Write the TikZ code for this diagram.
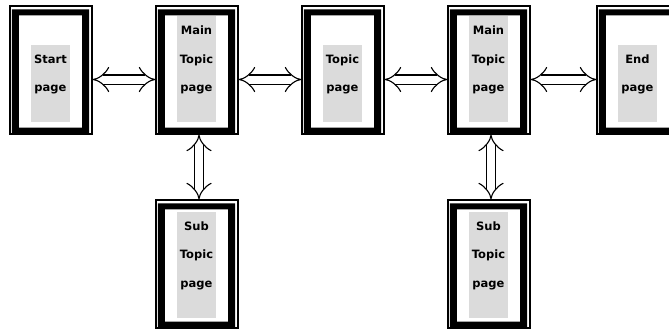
\documentclass[tikz,border=0pt]{standalone}
\usepackage{fontspec}
\setmainfont{DejaVu Sans}
\usetikzlibrary{arrows.meta}

\tikzset{
  page/.style={draw, line width=1.2pt, minimum width=82pt, minimum height=128pt, inner sep=0pt},
  sheet/.style={fill=black!14, minimum width=39pt, inner sep=0pt},
  pagetext/.style={font=\fontsize{11.5}{28.5}\selectfont\bfseries, align=center, inner sep=0pt},
  link/.style={double, double distance=8pt, line width=1.1pt, {Implies[length=9pt, width=17pt]}-{Implies[length=9pt, width=17pt]}}
}

\begin{document}
\begin{tikzpicture}[x=1pt,y=-1pt]
  \useasboundingbox (0,0) rectangle (669,330);
  % pages
  \node[page] (start) at (51,70) {};
  \node[page] (maina) at (197,70) {};
  \node[page] (topic) at (343,70) {};
  \node[page] (mainb) at (489,70) {};
  \node[page] (stop) at (638,70) {};
  \node[page] (suba) at (197,264) {};
  \node[page] (subb) at (489,264) {};
  % thick frames
  \foreach \p in {start,maina,topic,mainb,stop,suba,subb}
    \fill[even odd rule] ([shift={(2.5,4)}]\p.north west) rectangle ([shift={(-3.5,-1)}]\p.south east)
      ([shift={(9.5,10)}]\p.north west) rectangle ([shift={(-10.5,-7)}]\p.south east);
  % grey sheets
  \node[sheet, minimum height=77pt] (start-sheet) at (50.5,83.5) {};
  \node[sheet, minimum height=106pt] (maina-sheet) at (196.5,69) {};
  \node[sheet, minimum height=77pt] (topic-sheet) at (342.5,83.5) {};
  \node[sheet, minimum height=106pt] (mainb-sheet) at (488.5,69) {};
  \node[sheet, minimum height=77pt] (stop-sheet) at (637.5,83.5) {};
  \node[sheet, minimum height=106pt] (suba-sheet) at (196.5,264.5) {};
  \node[sheet, minimum height=106pt] (subb-sheet) at (488.5,264.5) {};
  % texts
  \node[pagetext] (start-text) at ([yshift=9pt]start-sheet.center) {Start\\page};
  \node[pagetext] (maina-text) at ([yshift=9pt]maina-sheet.center) {Main\\Topic\\page};
  \node[pagetext] (topic-text) at ([yshift=9pt]topic-sheet.center) {Topic\\page};
  \node[pagetext] (mainb-text) at ([yshift=9pt]mainb-sheet.center) {Main\\Topic\\page};
  \node[pagetext] (stop-text) at ([yshift=9pt]stop-sheet.center) {End\\page};
  \node[pagetext] (suba-text) at ([yshift=9pt]suba-sheet.center) {Sub\\Topic\\page};
  \node[pagetext] (subb-text) at ([yshift=9pt]subb-sheet.center) {Sub\\Topic\\page};
  % links
  \draw[link] ([yshift=-9.5pt]start.east) -- ([yshift=-9.5pt]maina.west);
  \draw[link] ([yshift=-9.5pt]maina.east) -- ([yshift=-9.5pt]topic.west);
  \draw[link] ([yshift=-9.5pt]topic.east) -- ([yshift=-9.5pt]mainb.west);
  \draw[link] ([yshift=-9.5pt]mainb.east) -- ([yshift=-9.5pt]stop.west);
  \draw[link] ([xshift=2pt]maina.south) -- ([xshift=2pt]suba.north);
  \draw[link] ([xshift=2pt]mainb.south) -- ([xshift=2pt]subb.north);
\end{tikzpicture}
\end{document}
